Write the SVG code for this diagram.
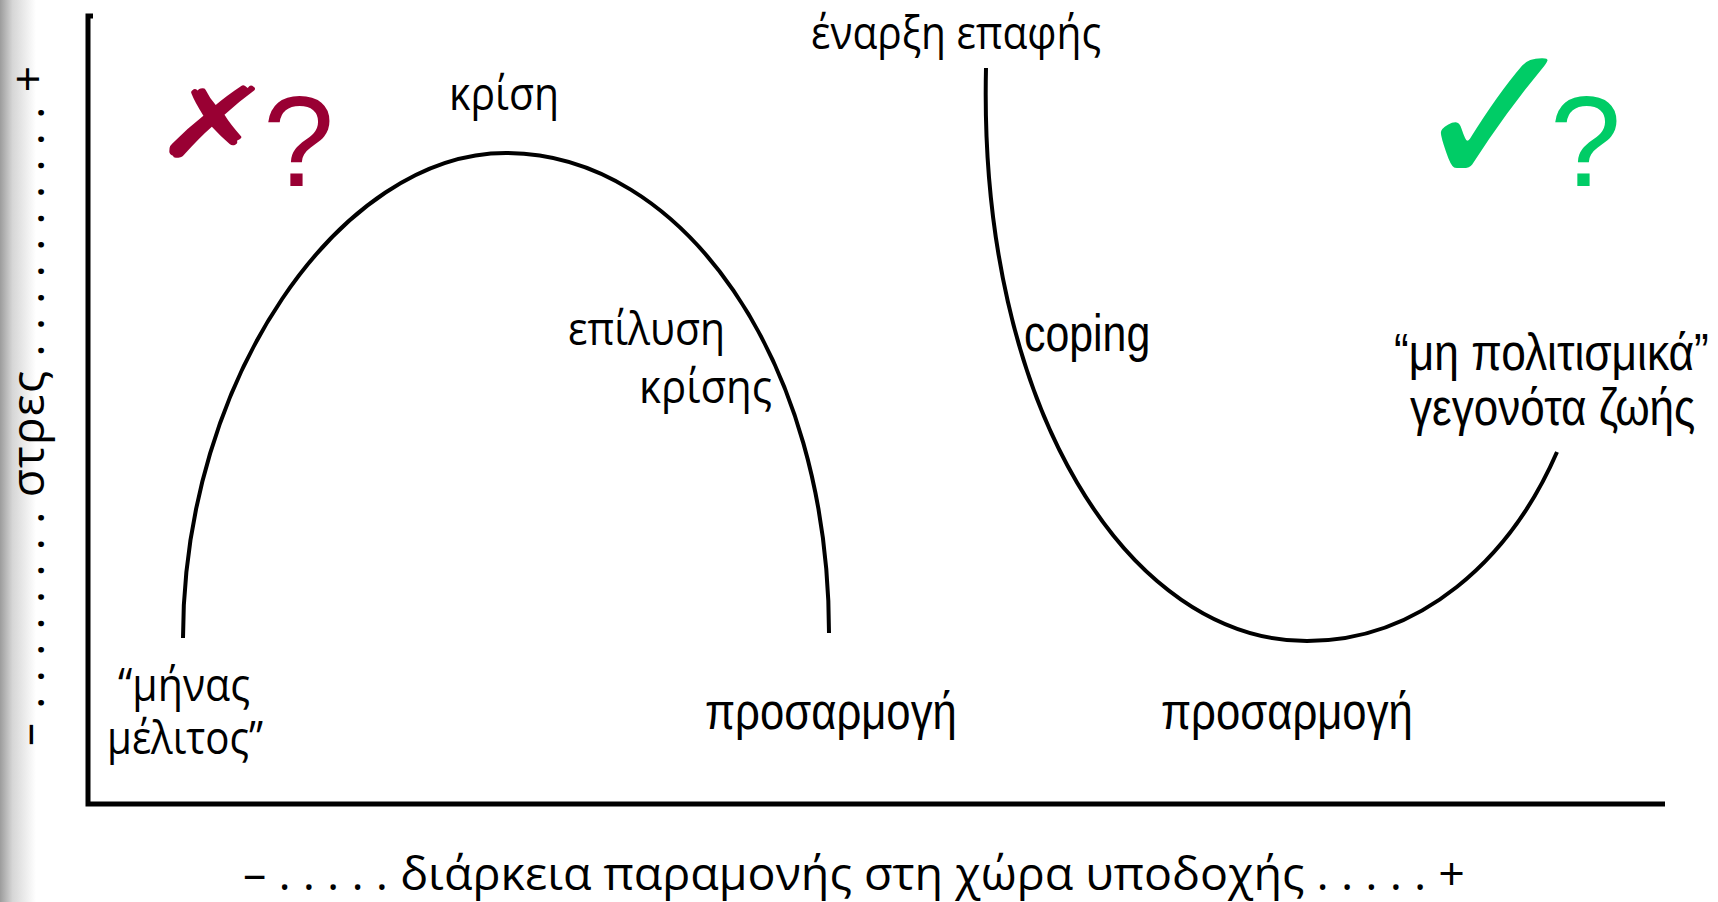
<svg xmlns="http://www.w3.org/2000/svg" width="1718" height="902" viewBox="0 0 1718 902">
<defs>
<linearGradient id="shade" x1="0" y1="0" x2="1" y2="0">
<stop offset="0" stop-color="#9c9c9c"/>
<stop offset="0.35" stop-color="#d6d6d6"/>
<stop offset="1" stop-color="#ffffff"/>
</linearGradient>
<style>
.hum{font-family:"Open Sans","Noto Sans","DejaVu Sans",sans-serif;font-size:46px;fill:#000}
.ari{font-family:"Liberation Sans","Arial",sans-serif;font-size:52px;fill:#000}
.curve{fill:none;stroke:#000;stroke-width:4}
.axis{fill:none;stroke:#000;stroke-width:5;stroke-linejoin:miter}
.q{font-family:"Liberation Sans","Arial",sans-serif;font-size:128px}
.sym{font-family:"DejaVu Sans",sans-serif}
</style>
</defs>
<rect width="1718" height="902" fill="#fff"/>
<rect x="0" y="0" width="36" height="902" fill="url(#shade)"/>

<g id="axes">
<path class="axis" d="M93 16 L88 16 L88 804 L1665 804"/>
</g>

<g id="y-label">
<text class="hum" transform="translate(44,746) rotate(-90)" x="0" y="0" textLength="680" lengthAdjust="spacing">– . . . . . . . . στρες . . . . . . . . . . +</text>
</g>
<g id="x-label">
<text class="hum" x="243" y="890" font-size="50" textLength="1222" lengthAdjust="spacingAndGlyphs">– . . . . . διάρκεια παραμονής στη χώρα υποδοχής . . . . . +</text>
</g>

<g id="connectors">
<path id="arch" class="curve" d="M183 638 C183 380 340 153 506 153 C682 153 829 360 829 633"/>
<path id="valley" class="curve" d="M986 68 C978 410 1130 641 1307 641 C1420 641 1510 560 1557 452"/>
</g>

<g id="fail-mark">
<text class="sym" transform="translate(152,157) scale(1.5,1)" x="0" y="0" font-size="98" fill="#990033">✗</text>
<text class="q" x="263" y="186" fill="#990033">?</text>
</g>
<g id="ok-mark">
<text class="sym" x="1410" y="188" font-size="206" fill="#00cc66">✓</text>
<text class="q" x="1550" y="186" fill="#00cc66">?</text>
</g>

<g id="n-honeymoon">
<text class="hum" x="118" y="701" textLength="132" lengthAdjust="spacingAndGlyphs">“μήνας</text>
<text class="hum" x="107" y="754" textLength="156" lengthAdjust="spacingAndGlyphs">μέλιτος”</text>
</g>
<g id="n-crisis">
<text class="hum" x="449" y="110" textLength="110" lengthAdjust="spacingAndGlyphs">κρίση</text>
</g>
<g id="n-resolution">
<text class="hum" x="568" y="345" textLength="157" lengthAdjust="spacingAndGlyphs">επίλυση</text>
<text class="hum" x="639" y="403" textLength="133" lengthAdjust="spacingAndGlyphs">κρίσης</text>
</g>
<g id="n-adapt1">
<text class="ari" transform="translate(705,729) scale(0.82,1)" x="0" y="0" textLength="307" lengthAdjust="spacingAndGlyphs">προσαρμογή</text>
</g>
<g id="n-contact">
<text class="hum" x="811" y="49" textLength="290" lengthAdjust="spacingAndGlyphs">έναρξη επαφής</text>
</g>
<g id="n-coping">
<text class="ari" transform="translate(1024,351) scale(0.82,1)" x="0" y="0" textLength="154" lengthAdjust="spacingAndGlyphs">coping</text>
</g>
<g id="n-events">
<text class="ari" transform="translate(1394,370) scale(0.82,1)" x="0" y="0" textLength="384" lengthAdjust="spacingAndGlyphs">“μη πολιτισμικά”</text>
<text class="ari" transform="translate(1410,425) scale(0.82,1)" x="0" y="0" textLength="348" lengthAdjust="spacingAndGlyphs">γεγονότα ζωής</text>
</g>
<g id="n-adapt2">
<text class="ari" transform="translate(1161,729) scale(0.82,1)" x="0" y="0" textLength="307" lengthAdjust="spacingAndGlyphs">προσαρμογή</text>
</g>
</svg>
